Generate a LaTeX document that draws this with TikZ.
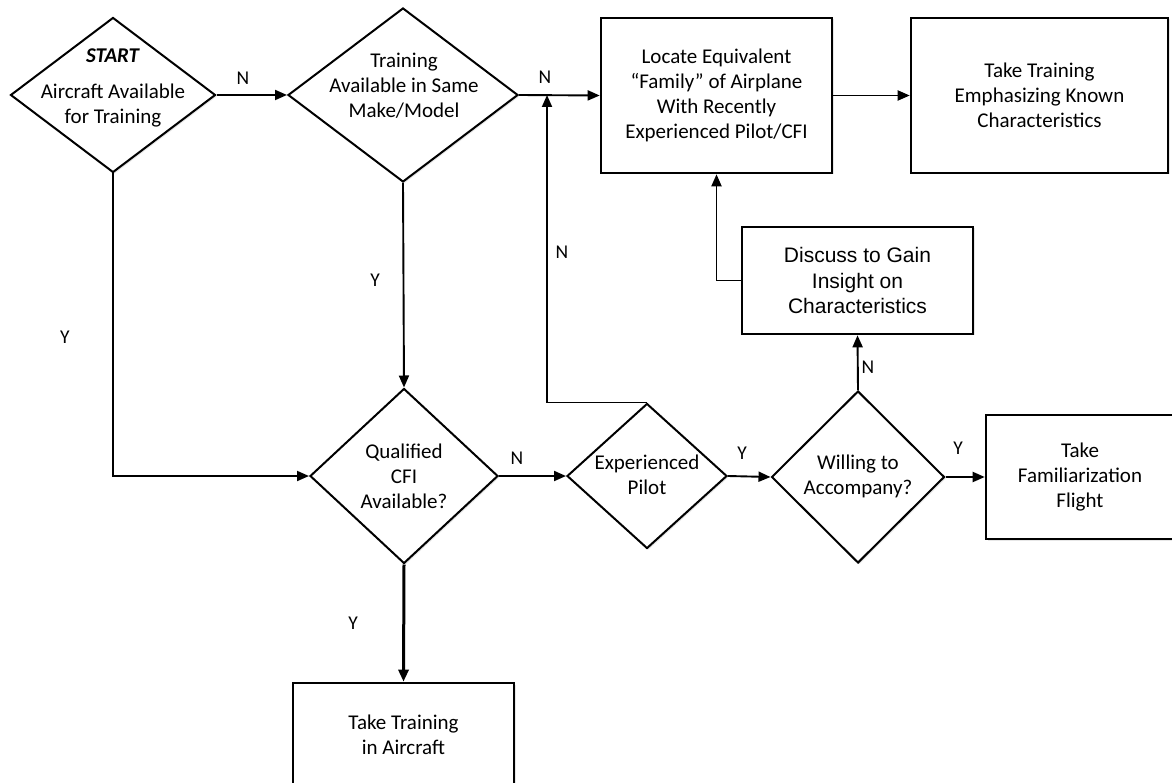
\documentclass[tikz,border=0pt]{standalone}
\usepackage{fontspec}
\setmainfont{Carlito}
\newfontfamily\arialfont{Liberation Sans}
\usetikzlibrary{arrows.meta,shapes.geometric,shadows}

\begin{document}
\begin{tikzpicture}[x=1pt, y=-1pt,
  soft/.style = {drop shadow={shadow xshift=1.5pt, shadow yshift=-1.5pt, opacity=0.2}},
  decision/.style = {diamond, draw, fill=white, soft, line width=2pt, inner sep=0pt},
  process/.style = {rectangle, draw, fill=white, soft, line width=2.6pt, inner sep=0pt, align=center, font=\fontsize{21}{25}\selectfont},
  dtext/.style = {align=center, inner sep=0pt, font=\fontsize{21}{25}\selectfont},
  flow/.style = {-{Triangle[length=12pt,width=10pt]}, line width=1.9pt},
  answer/.style = {inner sep=0pt, font=\fontsize{19.5}{22}\selectfont}]
\useasboundingbox (0,0) rectangle (1172,783);

% decisions
\node[decision, minimum width=205pt, minimum height=155pt] (start) at (113,95) {};
\node[dtext] (start-txt) at (113,88) {\textbf{\textit{START}}\\[11pt] Aircraft Available\\ for Training};
\node[decision, minimum width=230pt, minimum height=174pt] (avail) at (403,95) {};
\node[dtext] (avail-txt) at (404,86) {Training\\ Available in Same\\ Make/Model};
\node[decision, minimum width=188pt, minimum height=175pt] (cfi) at (404,476) {};
\node[dtext] (cfi-txt) at (404,476) {Qualified\\ CFI\\ Available?};
\node[decision, minimum width=160pt, minimum height=145pt] (pilot) at (647,476) {};
\node[dtext] (pilot-txt) at (647,475) {Experienced\\ Pilot};
\node[decision, minimum width=173pt, minimum height=172pt] (willing) at (858,477) {};
\node[dtext] (willing-txt) at (858,476) {Willing to\\ Accompany?};

% actions
\node[process, minimum width=231pt, minimum height=155pt] (locate) at (716.5,95.5) {Locate Equivalent\\ “Family” of Airplane\\ With Recently\\ Experienced Pilot/CFI};
\node[process, minimum width=257pt, minimum height=155pt] (emph) at (1039.5,95.5) {Take Training\\ Emphasizing Known\\ Characteristics};
\node[process, minimum width=231pt, minimum height=107pt, font=\arialfont\fontsize{21}{25.5}\selectfont] (discuss) at (857.5,280.5) {Discuss to Gain\\ Insight on\\ Characteristics};
\node[process, minimum width=188pt, minimum height=124pt] (famil) at (1080,477) {Take\\ Familiarization\\ Flight};
\node[process, minimum width=221pt, minimum height=104pt] (aircraft) at (403.5,735) {Take Training\\ in Aircraft};

% connectors
\coordinate (join) at (547,95);
\draw[flow] (start.east) -- (avail.west);
\draw[flow] (start.south) |- (cfi.west);
\draw[flow] (avail.south) -- (cfi.north);
\draw[flow] (avail.east) -- (locate.west);
\draw[flow] (locate.east) -- (emph.west);
\draw[flow] (cfi.east) -- (pilot.west);
\draw[flow] (pilot.north) -| (join);
\draw[flow] (pilot.east) -- (willing.west);
\draw[flow] (willing.north) -- (discuss.south);
\draw[flow] (discuss.west) -| (locate.south);
\draw[flow] (willing.east) -- (famil.west);
\draw[flow, line width=3pt] (cfi.south) -- (aircraft.north);

% answers
\node[answer] (n-start) at (243,78) {N};
\node[answer] (y-start) at (65,337) {Y};
\node[answer] (y-avail) at (375,280) {Y};
\node[answer] (n-avail) at (545,77) {N};
\node[answer] (n-pilot) at (562,252) {N};
\node[answer] (n-cfi) at (517,458) {N};
\node[answer] (y-cfi) at (353,623) {Y};
\node[answer] (y-pilot) at (742,453) {Y};
\node[answer] (n-willing) at (868,367) {N};
\node[answer] (y-willing) at (958,448) {Y};
\end{tikzpicture}
\end{document}
